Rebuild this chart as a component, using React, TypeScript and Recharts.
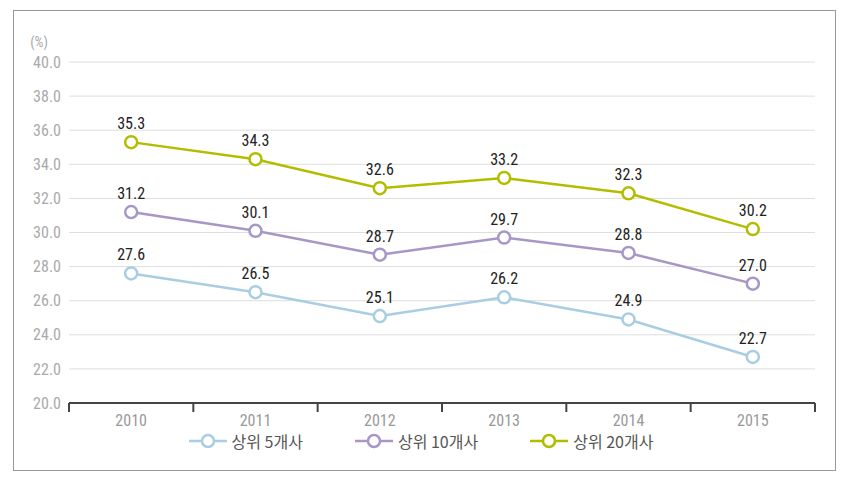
import React from 'react';
import { LineChart, Line, XAxis, YAxis, CartesianGrid, Legend, LabelList } from 'recharts';

const years = ['2010', '2011', '2012', '2013', '2014', '2015'];
const top5 = [27.6, 26.5, 25.1, 26.2, 24.9, 22.7];
const top10 = [31.2, 30.1, 28.7, 29.7, 28.8, 27.0];
const top20 = [35.3, 34.3, 32.6, 33.2, 32.3, 30.2];
const yTicks = [20, 22, 24, 26, 28, 30, 32, 34, 36, 38, 40];
const seriesNames = ['상위 5개사', '상위 10개사', '상위 20개사'];

const data = years.map((y, i) => ({ idx: i, year: y, a: top5[i], b: top10[i], c: top20[i] }));
const xTicks: number[] = [];
for (let i = 0; i <= years.length * 2; i++) xTicks.push(-0.5 + i * 0.5);

const FONT = '"Liberation Sans Narrow", "Roboto Condensed", "Arial Narrow", Roboto, sans-serif';
const KFONT = '"Noto Sans CJK KR", sans-serif';

const XTick = (props: any) => {
  const { x, y, payload } = props;
  const v = payload.value;
  if (Math.abs(v - Math.round(v)) > 0.01) {
    return <line x1={x} x2={x} y1={y} y2={y + 9} stroke="#444" strokeWidth={2} />;
  }
  return (
    <text x={x} y={y + 23} textAnchor="middle" fill="#999" fontSize={16} fontFamily={FONT}>
      {years[Math.round(v)]}
    </text>
  );
};

const colors = ['#a9cde2', '#a797c7', '#b3bd00'];

const LegendContent = (props: any) => {
  const payload = (props.payload || []) as any[];
  return (
    <div style={{ display: 'flex', justifyContent: 'center', alignItems: 'center', gap: 52, height: 24, paddingRight: 6 }}>
      {payload.map((p: any) => (
        <div key={p.value} style={{ display: 'flex', alignItems: 'center' }}>
          <svg width={38} height={16} style={{ marginRight: 5 }}>
            <line x1={0} x2={38} y1={8} y2={8} stroke={p.color} strokeWidth={2.5} />
            <circle cx={19} cy={8} r={6} fill="#fff" stroke={p.color} strokeWidth={2.5} />
          </svg>
          <span style={{ color: '#555', fontSize: 16, fontFamily: KFONT, lineHeight: '24px' }}>{p.value}</span>
        </div>
      ))}
    </div>
  );
};

export default function App() {
  return (
    <div style={{ position: 'absolute', left: 0, top: 0, width: 848, height: 478, background: '#fff' }}>
      <div style={{ position: 'absolute', left: 13, top: 10, width: 821, height: 459, border: '1px solid #999' }} />
      <LineChart
        width={848}
        height={478}
        data={data}
        margin={{ top: 62, right: 33, left: 19, bottom: 16 }}
        style={{ fontFamily: FONT }}
      >
        <CartesianGrid vertical={false} stroke="#dedede" />
        <XAxis
          dataKey="idx"
          type="number"
          domain={[-0.5, 5.5]}
          ticks={xTicks}
          interval={0}
          tick={<XTick />}
          tickLine={false}
          tickSize={0}
          tickMargin={0}
          axisLine={{ stroke: '#444', strokeWidth: 2 }}
          height={35}
        />
        <YAxis
          domain={[20, 40]}
          ticks={yTicks}
          interval={0}
          width={50}
          axisLine={false}
          tickLine={false}
          tickFormatter={(v: number) => v.toFixed(1)}
          tick={{ fill: '#aaa', fontSize: 16, fontFamily: FONT }}
          label={{ value: '(%)', position: 'top', offset: 15, fill: '#aaa', fontSize: 14, fontFamily: FONT, dx: -5 }}
        />
        <Legend
          verticalAlign="bottom"
          itemSorter="dataKey"
          content={<LegendContent />}
          wrapperStyle={{ bottom: 25, left: 0, width: 848 }}
        />
        {(['a', 'b', 'c'] as const).map((k, i) => (
          <Line
            key={k}
            dataKey={k}
            name={seriesNames[i]}
            stroke={colors[i]}
            strokeWidth={2.5}
            dot={{ r: 6, fill: '#fff', stroke: colors[i], strokeWidth: 2.5 }}
            legendType="line"
            isAnimationActive={false}
          >
            <LabelList
              dataKey={k}
              position="top"
              offset={13}
              formatter={(v: number) => v.toFixed(1)}
              fill="#222"
              fontSize={16}
              fontFamily={FONT}
            />
          </Line>
        ))}
      </LineChart>
    </div>
  );
}
